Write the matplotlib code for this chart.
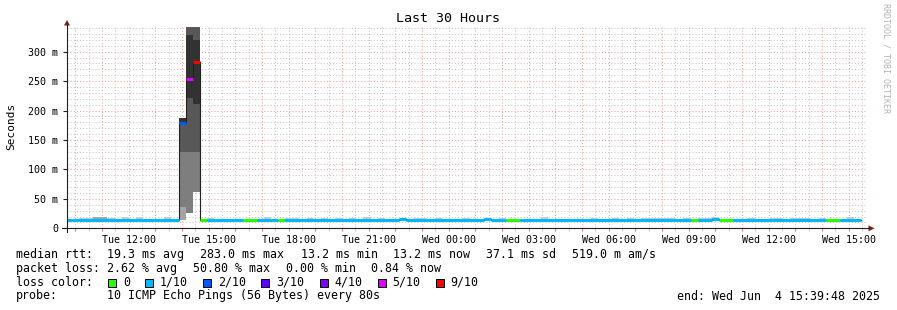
import pandas as pd
import matplotlib
matplotlib.use("Agg")
import matplotlib.pyplot as plt
import matplotlib.dates as mdates
from matplotlib.lines import Line2D
from matplotlib.patches import Rectangle, Polygon
from matplotlib.ticker import MultipleLocator, FuncFormatter

plt.rcParams['font.family'] = ['DejaVu Sans Mono']

# ---- values ----
start_time = '2025-06-03 09:39:48'
end_time = '2025-06-04 15:39:48'

loss_labels = ['0', '1/10', '2/10', '3/10', '4/10', '5/10', '9/10']
loss_colors = ['#26ff00', '#00b8ff', '#0059ff', '#5e00ff', '#7e00ff', '#dd00ff', '#ff0000']
smoke_greys = ['#cacaca', '#a4a4a4', '#7e7e7e', '#585858', '#323232']

# median rtt in runs of 16 min steps: start of run, ms, loss colour index
median_start = ['2025-06-03 09:36', '2025-06-03 09:52', '2025-06-03 10:08', '2025-06-03 11:28',
                '2025-06-03 13:52', '2025-06-03 14:08', '2025-06-03 14:24', '2025-06-03 14:40',
                '2025-06-03 14:56', '2025-06-03 16:16', '2025-06-03 16:48', '2025-06-03 17:36',
                '2025-06-03 17:52', '2025-06-03 22:08', '2025-06-03 22:24', '2025-06-03 23:12',
                '2025-06-03 23:28', '2025-06-04 01:20', '2025-06-04 01:36', '2025-06-04 02:08',
                '2025-06-04 02:40', '2025-06-04 09:04', '2025-06-04 09:20', '2025-06-04 09:52',
                '2025-06-04 10:08', '2025-06-04 10:40', '2025-06-04 14:08', '2025-06-04 14:40']
median_ms = [13.4, 14.0, 13.4, 14.0,
             179.0, 254.0, 282.0, 13.4,
             13.4, 13.4, 13.4, 13.4,
             13.4, 15.4, 13.4, 14.8,
             13.4, 15.4, 13.4, 13.4,
             13.4, 13.4, 13.4, 15.4,
             13.4, 13.4, 13.4, 13.4]
median_loss = [1, 1, 1, 1,
               2, 5, 6, 0,
               1, 0, 1, 0,
               1, 1, 1, 1,
               1, 1, 1, 0,
               1, 0, 1, 1,
               0, 1, 0, 1]
median_last = '2025-06-04 15:28'

# smoke during the outage: grey bands per 16 min step
spike_start = ['2025-06-03 13:52', '2025-06-03 14:08', '2025-06-03 14:24']
spike_end = ['2025-06-03 14:08', '2025-06-03 14:24', '2025-06-03 14:40']
spike_lo = [[13.4, 37, 130, 180], [26.5, 130, 221, 328], [62, 130, 212, 320]]
spike_hi = [[37, 130, 180, 188], [130, 221, 328, 350], [130, 212, 320, 350]]
spike_shade = [[1, 2, 3, 4], [2, 3, 4, 3], [2, 3, 4, 3]]

# small smoke above the baseline: start, end, top ms, grey index
wisp_start = ['2025-06-03 10:08', '2025-06-03 10:40', '2025-06-03 11:12', '2025-06-03 11:44',
              '2025-06-03 12:16', '2025-06-03 13:20', '2025-06-03 14:56', '2025-06-03 17:04',
              '2025-06-03 17:52', '2025-06-03 18:40', '2025-06-03 19:12', '2025-06-03 19:44',
              '2025-06-03 20:16', '2025-06-03 20:48', '2025-06-03 21:20', '2025-06-03 22:40',
              '2025-06-03 23:28', '2025-06-04 00:32', '2025-06-04 01:20', '2025-06-04 01:52',
              '2025-06-04 03:28', '2025-06-04 05:20', '2025-06-04 06:08', '2025-06-04 06:40',
              '2025-06-04 07:12', '2025-06-04 08:48', '2025-06-04 09:20', '2025-06-04 09:52',
              '2025-06-04 11:12', '2025-06-04 12:00', '2025-06-04 12:48', '2025-06-04 13:52',
              '2025-06-04 14:56']
wisp_end = ['2025-06-03 10:40', '2025-06-03 11:12', '2025-06-03 11:28', '2025-06-03 12:00',
            '2025-06-03 12:32', '2025-06-03 13:36', '2025-06-03 15:12', '2025-06-03 17:20',
            '2025-06-03 18:24', '2025-06-03 18:56', '2025-06-03 19:28', '2025-06-03 20:00',
            '2025-06-03 20:32', '2025-06-03 21:04', '2025-06-03 21:36', '2025-06-03 23:12',
            '2025-06-03 23:44', '2025-06-04 00:48', '2025-06-04 01:36', '2025-06-04 02:08',
            '2025-06-04 03:44', '2025-06-04 05:36', '2025-06-04 06:24', '2025-06-04 06:56',
            '2025-06-04 08:32', '2025-06-04 09:04', '2025-06-04 09:52', '2025-06-04 10:08',
            '2025-06-04 11:28', '2025-06-04 12:32', '2025-06-04 13:36', '2025-06-04 14:08',
            '2025-06-04 15:12']
wisp_top = [17.3, 19.0, 17.3, 20.0, 20.0, 20.0, 16.8, 18.5,
            17.0, 17.0, 17.0, 17.0, 17.0, 18.5, 17.0, 18.0,
            17.0, 17.0, 18.0, 17.0, 18.5, 17.0, 17.0, 17.0,
            17.0, 17.0, 17.0, 18.5, 17.0, 17.0, 17.0, 17.0,
            18.5]
wisp_shade = [0, 1, 0, 0, 0, 0, 0, 0,
              0, 0, 0, 0, 0, 0, 0, 0,
              0, 0, 0, 0, 0, 0, 0, 0,
              0, 0, 0, 0, 0, 0, 0, 0,
              0]

rtt_items = ['median rtt:', '19.3 ms avg', '283.0 ms max', '13.2 ms min',
             '13.2 ms now', '37.1 ms sd', '519.0 m am/s']
pl_items = ['packet loss:', '2.62 % avg', '50.80 % max', '0.00 % min', '0.84 % now']
probe_text = '10 ICMP Echo Pings (56 Bytes) every 80s'
end_text = 'end: Wed Jun  4 15:39:48 2025'

# ---- layout (pixels of the 897x310 image) ----
W, H = 897, 310
X0, X1, Y0, Y1 = 66.5, 866.5, 27.0, 228.3
FS = 8.4


def tnum(s):
    return mdates.date2num(pd.Timestamp(s).to_pydatetime())


def ptext(x, y, s, **kw):
    kw.setdefault('fontsize', FS)
    kw.setdefault('va', 'center')
    fig.text(x / W, 1 - y / H, s, **kw)


fig = plt.figure(figsize=(W / 100, H / 100), dpi=100)
fig.patch.set_facecolor('white')
ax = fig.add_axes([X0 / W, 1 - Y1 / H, (X1 - X0) / W, (Y1 - Y0) / H])

# smoke
for s, e, los, his, shs in zip(spike_start, spike_end, spike_lo, spike_hi, spike_shade):
    for lo, hi, sh in zip(los, his, shs):
        ax.fill_between([tnum(s), tnum(e)], lo, hi, color=smoke_greys[sh], lw=0, zorder=2)

m_start = [tnum(s) for s in median_start]
m_end = m_start[1:] + [tnum(median_last)]
for s, e, top, sh in zip(wisp_start, wisp_end, wisp_top, wisp_shade):
    ax.fill_between([tnum(s), tnum(e)], 13.4, top, color=smoke_greys[sh], lw=0, zorder=2)

# median: thin dark step line, then loss-coloured bars
xs, ys = [], []
for a, b, v in zip(m_start, m_end, median_ms):
    xs += [a, b]
    ys += [v, v]
ax.plot(xs, ys, color='#202020', lw=0.8, zorder=3)
ax.hlines(median_ms, m_start, m_end, colors=[loss_colors[i] for i in median_loss],
          lw=2.2, zorder=4, capstyle='butt')

ax.set_xlim(tnum(start_time), tnum(end_time))
ax.set_ylim(0, 342)

ax.xaxis.set_major_locator(mdates.HourLocator())
ax.xaxis.set_minor_locator(mdates.MinuteLocator(byminute=[30]))


def xfmt(x, pos):
    d = mdates.num2date(x)
    return d.strftime('%a %H:%M') if d.hour % 3 == 0 else ''


ax.xaxis.set_major_formatter(FuncFormatter(xfmt))
ax.yaxis.set_major_locator(MultipleLocator(50))
ax.yaxis.set_minor_locator(MultipleLocator(10))
ax.yaxis.set_major_formatter(FuncFormatter(lambda v, p: '0' if v == 0 else f'{v:.0f} m'))

ax.set_axisbelow(True)
ax.grid(which='major', color='#f4a0a0', linestyle=(0, (1, 2)), linewidth=0.75)
ax.grid(which='minor', color='#c8c8c8', linestyle=(0, (1, 2)), linewidth=0.75)

for sp in ax.spines.values():
    sp.set_visible(False)
ax.tick_params(axis='x', which='major', length=2, color='#f08080', labelsize=7.2, pad=2.5)
ax.tick_params(axis='x', which='minor', length=2, color='#c0c0c0')
ax.tick_params(axis='y', which='major', length=3, color='#202020', labelsize=7.2, pad=2.9)
ax.tick_params(axis='y', which='minor', length=0)

# axis lines and arrows
fig.add_artist(Line2D([62 / W, 869 / W], [1 - Y1 / H] * 2, color='#202020', lw=0.8))
fig.add_artist(Line2D([67 / W] * 2, [1 - 232 / H, 1 - 25 / H], color='#202020', lw=0.8))
fig.add_artist(Polygon([(868.5 / W, 1 - 225.3 / H), (874.5 / W, 1 - Y1 / H), (868.5 / W, 1 - 231.3 / H)],
                       closed=True, color='#7f1f1f', lw=0))
fig.add_artist(Polygon([(64 / W, 1 - 25.5 / H), (67 / W, 1 - 20 / H), (70 / W, 1 - 25.5 / H)],
                       closed=True, color='#7f1f1f', lw=0))

# titles
ptext(448, 19, 'Last 30 Hours', ha='center', fontsize=9.6)
ptext(11, 126, 'Seconds', rotation=90, ha='center', fontsize=8)
ptext(886, 58, 'RRDTOOL / TOBI OETIKER', rotation=270, ha='center', fontsize=6, color='#b4b4b4')

# legend
for s, x in zip(rtt_items, [16, 107.3, 200, 300.7, 393.3, 486, 571.7]):
    ptext(x, 254.3, s)
for s, x in zip(pl_items, [16, 107.3, 193, 285.7, 371.4]):
    ptext(x, 268.3, s)
ptext(16, 282.3, 'loss color:')
x = 108.3
for lab, col in zip(loss_labels, loss_colors):
    fig.add_artist(Rectangle((x / W, 1 - 287 / H), 8 / W, 8 / H, facecolor=col,
                             edgecolor='black', lw=0.7))
    ptext(x + 14.7, 282.3, lab)
    x += 14.7 + 7.02 * len(lab) + 15.3
ptext(16, 296, 'probe:')
ptext(107.3, 296, probe_text)
ptext(880, 296, end_text, ha='right')

fig.savefig('out.png', dpi=100, facecolor='white')
